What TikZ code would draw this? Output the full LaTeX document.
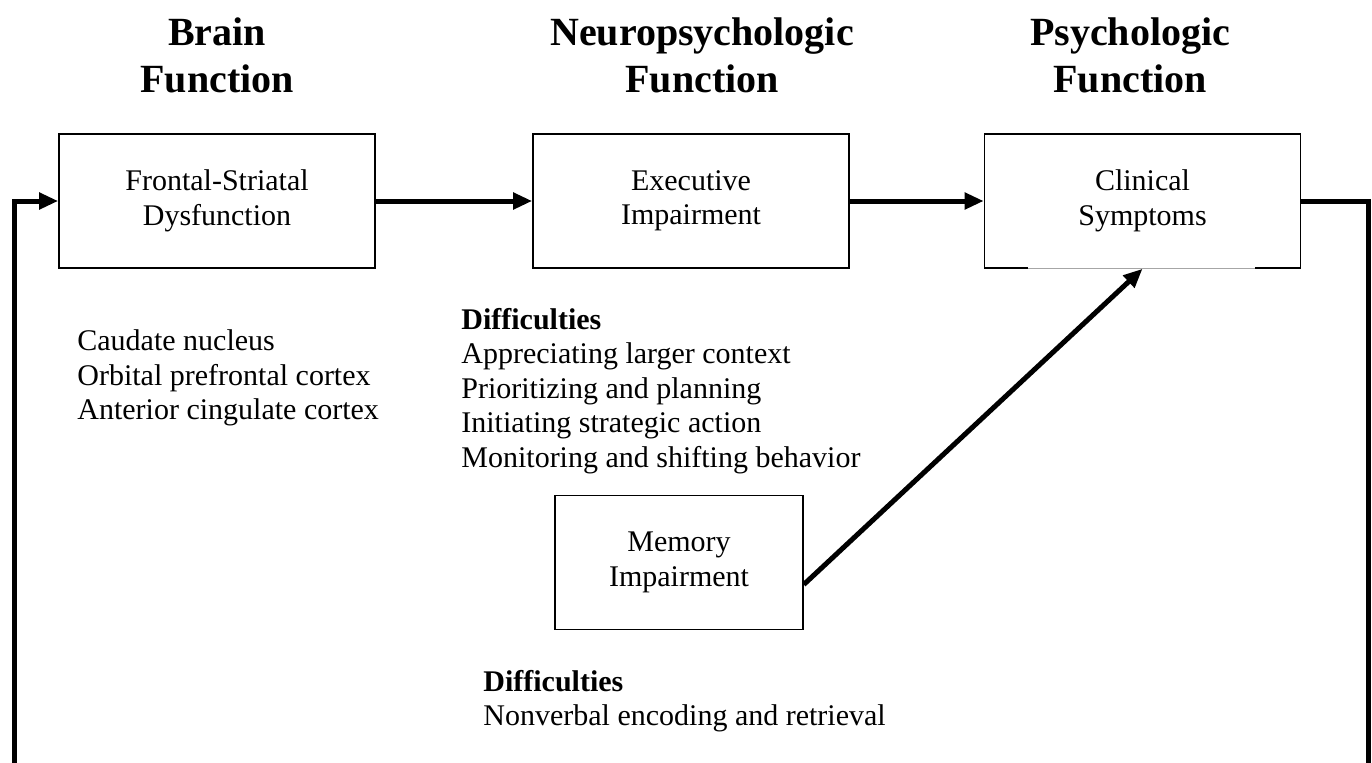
\documentclass[tikz,border=0pt]{standalone}
\usepackage{fontspec}
\setmainfont{Liberation Serif}
\usetikzlibrary{positioning,arrows.meta}

\begin{document}
\begin{tikzpicture}[
    x=0.5pt, y=-0.5pt, >={Triangle[length=9.5pt,width=8pt]},
    every node/.style={align=center, font=\fontsize{15}{17.25}\selectfont},
    box/.style={draw, line width=0.8pt, minimum width=158pt,
        minimum height=67pt, inner sep=0pt},
    head/.style={anchor=north, inner sep=0pt,
        font=\fontsize{20}{23.5}\selectfont\bfseries},
    list/.style={anchor=north west, inner sep=0pt, align=left},
    flow/.style={->, line width=2.5pt, line join=miter},
]
\clip (0,0) rectangle (1372,762);
% column heads
\node[head] (hbrain) at (217,17.5) {Brain\\Function};
\node[head] (hneuro) at (702,17.5) {Neuropsychologic\\Function};
\node[head] (hpsych) at (1130,17.5) {Psychologic\\Function};
% boxes
\node[box] (front) at (217,201) {Frontal-Striatal\\Dysfunction};
\node[box] (exec) at (691,201) {Executive\\Impairment};
\node[box] (clin) at (1142.5,201) {Clinical\\Symptoms};
\node[box, minimum width=124pt] (mem) at (679,562.5) {Memory\\Impairment};
\draw[white, line width=1.2pt] (1028,268) -- (1255,268);
\draw[gray!70, line width=0.4pt] (1028,268) -- (1255,268);
% lists
\node[list] (regions) at (77,329.5)
    {Caudate nucleus\\Orbital prefrontal cortex\\Anterior cingulate cortex};
\node[list] (execdiff) at (461,307.5)
    {\textbf{Difficulties}\\Appreciating larger context\\Prioritizing and planning\\
     Initiating strategic action\\Monitoring and shifting behavior};
\node[list] (memdiff) at (483,669.5)
    {\textbf{Difficulties}\\Nonverbal encoding and retrieval};
% connectors
\coordinate (loopr) at (1368,790);
\coordinate (loopl) at (14,790);
\draw[flow] (front) -- (exec);
\draw[flow] (exec) -- (clin);
\draw[flow] ([yshift=-11pt]mem.east) -- (clin.south);
\draw[flow] (clin.east) -| (loopr) -- (loopl) |- (front.west);
\end{tikzpicture}
\end{document}
